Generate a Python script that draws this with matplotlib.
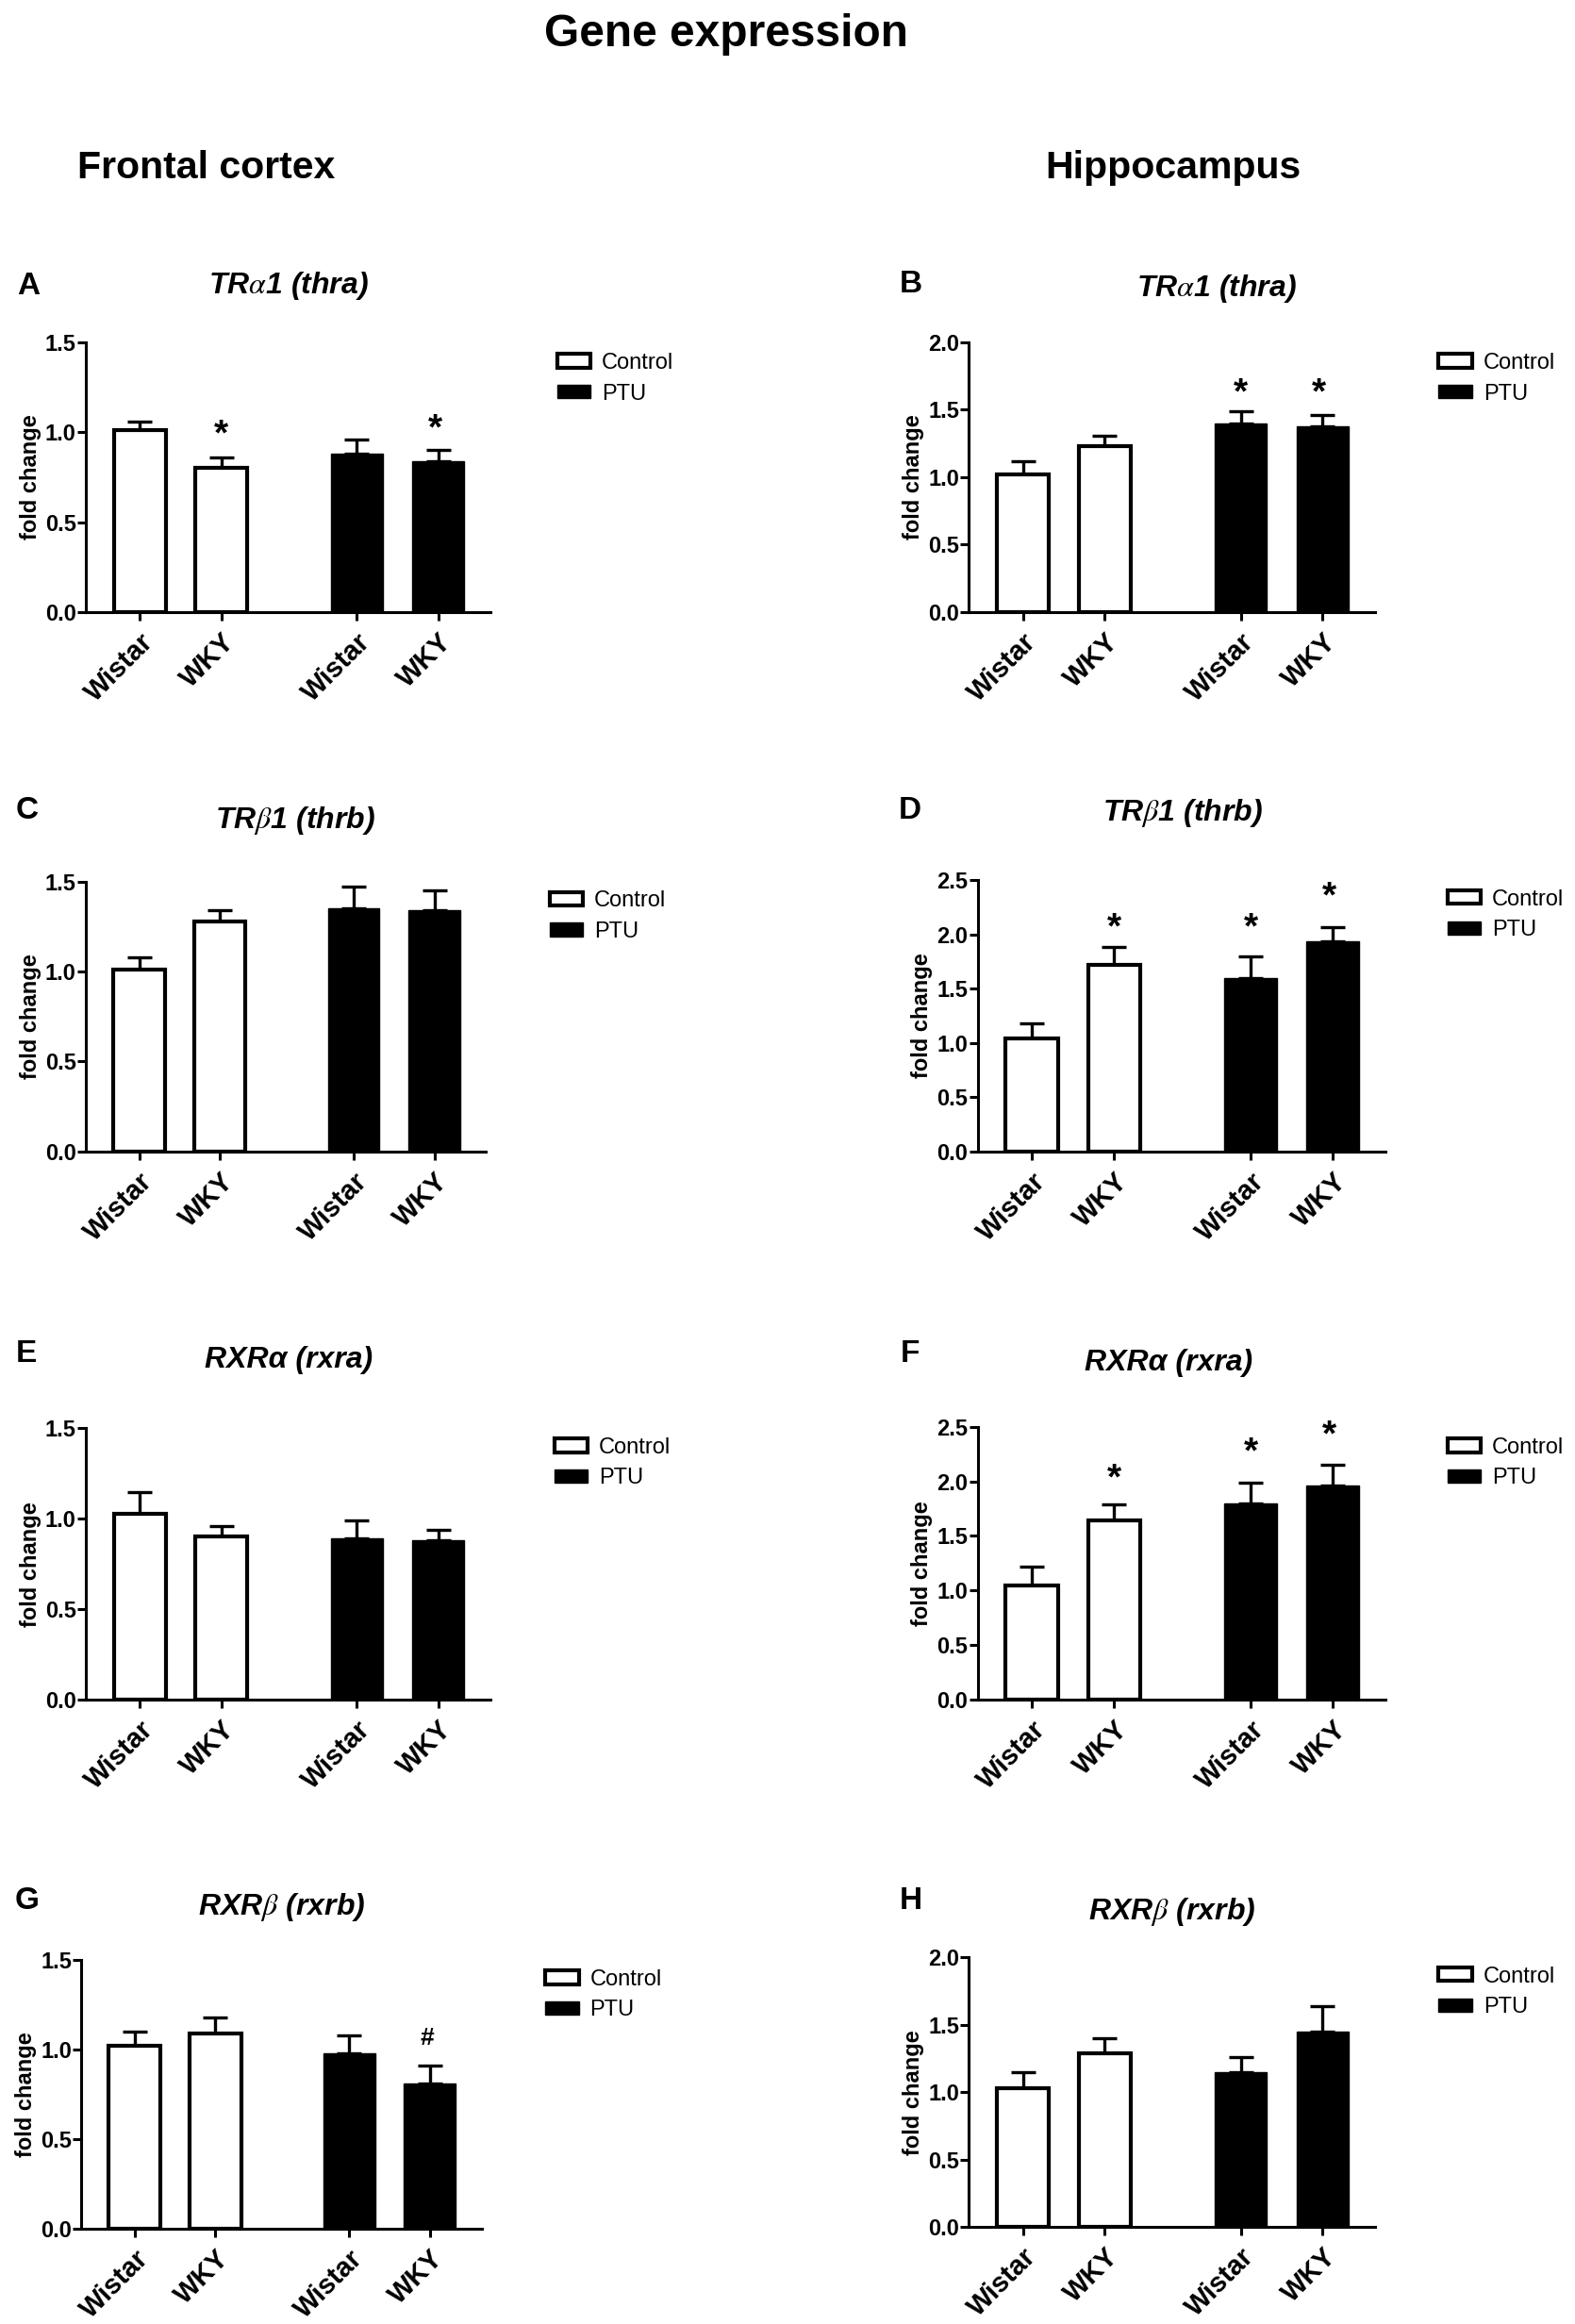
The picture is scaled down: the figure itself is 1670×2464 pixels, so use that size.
import matplotlib
matplotlib.use('Agg')
import matplotlib.pyplot as plt

plt.rcParams['font.family'] = ['Liberation Sans', 'DejaVu Sans']
plt.rcParams['mathtext.fontset'] = 'stix'

# scale between the coordinates I measured and the real image
S = 1.571
FIG_W = 1670
FIG_H = 2464

strains = ['Wistar', 'WKY', 'Wistar', 'WKY']
groups = ['Control', 'PTU']
letters = ['A', 'B', 'C', 'D', 'E', 'F', 'G', 'H']
titles = [r'TR$\mathit{\alpha}$1 (thra)', r'TR$\mathit{\alpha}$1 (thra)',
          r'TR$\mathit{\beta}$1 (thrb)', r'TR$\mathit{\beta}$1 (thrb)',
          'RXRα (rxra)', 'RXRα (rxra)',
          r'RXR$\mathit{\beta}$ (rxrb)', r'RXR$\mathit{\beta}$ (rxrb)']
y_max = [1.5, 2.0, 1.5, 2.5, 1.5, 2.5, 1.5, 2.0]
y_ticks = [[0.0, 0.5, 1.0, 1.5], [0.0, 0.5, 1.0, 1.5, 2.0],
           [0.0, 0.5, 1.0, 1.5], [0.0, 0.5, 1.0, 1.5, 2.0, 2.5],
           [0.0, 0.5, 1.0, 1.5], [0.0, 0.5, 1.0, 1.5, 2.0, 2.5],
           [0.0, 0.5, 1.0, 1.5], [0.0, 0.5, 1.0, 1.5, 2.0]]

means = [[1.01, 0.80, 0.88, 0.84], [1.02, 1.23, 1.40, 1.38],
         [1.01, 1.28, 1.35, 1.34], [1.04, 1.72, 1.60, 1.94],
         [1.03, 0.90, 0.89, 0.88], [1.05, 1.64, 1.80, 1.96],
         [1.02, 1.09, 0.98, 0.81], [1.03, 1.29, 1.15, 1.45]]
err_tops = [[1.06, 0.86, 0.96, 0.90], [1.12, 1.31, 1.49, 1.46],
            [1.08, 1.34, 1.47, 1.45], [1.18, 1.88, 1.80, 2.07],
            [1.15, 0.96, 0.99, 0.94], [1.22, 1.79, 1.99, 2.15],
            [1.10, 1.18, 1.08, 0.91], [1.15, 1.40, 1.26, 1.64]]
# significance marks: panel, bar, symbol, height in data units
sig_panel = [0, 0, 1, 1, 3, 3, 3, 5, 5, 5, 6]
sig_bar = [1, 3, 2, 3, 1, 2, 3, 1, 2, 3, 3]
sig_mark = ['*', '*', '*', '*', '*', '*', '*', '*', '*', '*', '#']
sig_y = [0.985, 1.015, 1.62, 1.62, 2.05, 2.05, 2.34, 2.02, 2.26, 2.42, 1.065]

# layout, measured on the 1058 wide view: left, right, top, bottom of each axes
axes_box = [(58, 331, 231, 413), (654, 928, 231, 413),
            (58, 328, 595, 777), (660, 935, 594, 777),
            (58, 331, 964, 1147), (660, 935, 963, 1147),
            (55, 325, 1323, 1504), (654, 928, 1321, 1503)]
title_pos = [(195, 193), (821, 195), (199, 554), (798, 549),
             (195, 918), (789, 920), (190, 1287), (791, 1290)]
letter_pos = [(19, 193), (615, 192), (18, 547), (614, 547),
              (18, 914), (614, 914), (18, 1283), (615, 1283)]
legend_pos = [(376, 238), (971, 238), (371, 601), (977, 600),
              (374, 970), (977, 970), (368, 1329), (971, 1327)]

x_pos = [0, 1, 2.66, 3.66]
bar_w = 0.64


def fx(x):
    return x * S / FIG_W


def fy(y):
    return 1 - y * S / FIG_H


fig = plt.figure(figsize=(FIG_W / 100, FIG_H / 100), dpi=100)

fig.text(fx(490), fy(23), 'Gene expression', fontsize=34.5, fontweight='bold', ha='center', va='center')
fig.text(fx(139), fy(113), 'Frontal cortex', fontsize=29.5, fontweight='bold', ha='center', va='center')
fig.text(fx(792), fy(113), 'Hippocampus', fontsize=29.5, fontweight='bold', ha='center', va='center')

for i in range(8):
    left, right, top, bottom = axes_box[i]
    ax = fig.add_axes([fx(left), fy(bottom), fx(right - left), fy(top) - fy(bottom)])

    tops = err_tops[i]
    yerr = [[0] * 4, [t - m for t, m in zip(tops, means[i])]]
    bars_c = ax.bar(x_pos[:2], means[i][:2], bar_w, color='white', edgecolor='black', linewidth=3, zorder=3)
    bars_p = ax.bar(x_pos[2:], means[i][2:], bar_w, color='black', edgecolor='black', linewidth=1, zorder=3)
    ax.errorbar(x_pos, means[i], yerr=yerr, fmt='none', ecolor='black', elinewidth=2.4, capsize=9.5, capthick=2.4, zorder=2)

    ax.set_xlim(-0.66, 4.3)
    ax.set_ylim(0, y_max[i])
    ax.set_xticks(x_pos)
    ax.set_xticklabels(strains, rotation=45, ha='right', rotation_mode='anchor',
                       fontsize=21, fontweight='bold')
    ax.set_yticks(y_ticks[i])
    ax.set_yticklabels(['%.1f' % v for v in y_ticks[i]], fontsize=17, fontweight='bold')
    ax.tick_params(axis='both', length=6.5, width=2.2, pad=1)
    ax.tick_params(axis='x', pad=6)
    ax.spines['top'].set_visible(False)
    ax.spines['right'].set_visible(False)
    ax.spines['left'].set_linewidth(2.2)
    ax.spines['bottom'].set_linewidth(2.2)
    ax.patch.set_alpha(0)
    ax.set_ylabel('fold change', fontsize=17, fontweight='bold', labelpad=3)

    ax.legend([bars_c[0], bars_p[0]], groups, loc='upper left', frameon=False,
              bbox_to_anchor=(fx(legend_pos[i][0]), fy(legend_pos[i][1])), bbox_transform=fig.transFigure,
              fontsize=17, borderpad=0, borderaxespad=0, handlelength=1.5, handleheight=0.55,
              handletextpad=0.5, labelspacing=0.45)

    fig.text(fx(title_pos[i][0]), fy(title_pos[i][1]), titles[i], fontsize=23, fontweight='bold',
             style='italic', ha='center', va='center')
    fig.text(fx(letter_pos[i][0]), fy(letter_pos[i][1]), letters[i], fontsize=24, fontweight='bold',
             ha='center', va='center')

    for p, b, mark, y in zip(sig_panel, sig_bar, sig_mark, sig_y):
        if p == i:
            # the stars over the last bar sit a bit left of its centre in the original
            x = x_pos[b] - 0.04 if b == 3 else x_pos[b]
            ax.text(x, y, mark, fontsize=28 if mark == '*' else 19, fontweight='bold',
                    ha='center', va='center', clip_on=False)

fig.savefig('out.png', dpi=100)
